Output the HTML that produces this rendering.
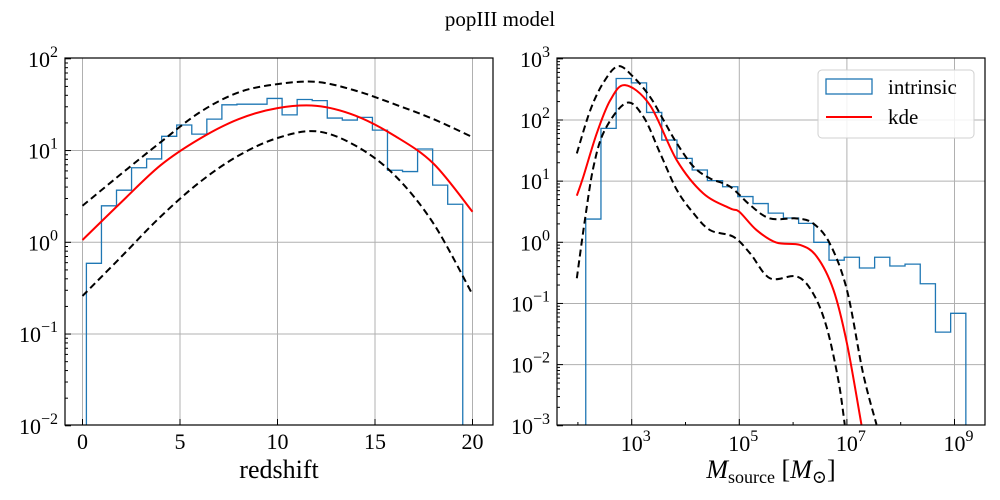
<!DOCTYPE html>
<html><head><meta charset="utf-8"><style>
html,body{margin:0;padding:0;background:#fff;}
svg{display:block;font-family:"Liberation Serif","DejaVu Serif",serif;}
</style></head><body>
<svg id="fig" width="1000" height="500" viewBox="0 0 1000 500">
<defs>
<clipPath id="clipL"><rect x="65" y="58" width="428" height="367"/></clipPath>
<clipPath id="clipR"><rect x="557" y="58" width="428" height="367"/></clipPath>
</defs>
<text x="500" y="26" text-anchor="middle" font-size="21">popIII model</text>
<g id="left"></g>
<g id="right"></g>
</svg>
<script>
// ---------- Left panel data (redshift) ----------
const zEdgeStart = 0.2, zEdgeStep = 0.772;
const zHist = [0.59,2.5,3.7,6.5,8.1,14.3,19,15.1,22,31.5,32,32,37,24.5,36,35,22.6,21.5,23,16.7,6.1,5.9,10.4,4.2,2.6];
const zCurveX = [0,2,4,6,8,10,12,14,16,18,20];
const zKde = [1.06,2.75,6.9,13.4,22,29,30.7,24,14.5,7.2,2.15];
const zUpper = [2.5,5.6,12.3,26,43,53,56,45,32,22,14];
const zLower = [0.26,0.70,1.9,4.5,8.8,13.7,16.2,11.3,5.4,1.6,0.27];
const zXTicks = [0,5,10,15,20];
const zYTicks = [-2,-1,0,1,2];

// ---------- Right panel data (log10 mass) ----------
const mEdgeStart = 2.146, mEdgeStep = 0.2826;
const mHist = [2.4,73,477,405,133,47,23.6,15.2,10.2,8.1,5.6,4.3,3.0,2.5,2.04,1.0,0.51,0.57,0.38,0.57,0.41,0.44,0.21,0.034,0.069];
const mKdeX = [1.98,2.1,2.35,2.6,2.876,3.34,3.836,4.33,4.83,5.0,5.32,5.69,6.13,6.44,6.75,7.0,7.27];
const mKdeLog = [0.762,1.07,1.78,2.32,2.57,2.243,1.345,0.8,0.555,0.5,0.2,-0.005,-0.044,-0.234,-0.778,-1.65,-2.98];
const mUpX = [1.98,2.23,2.48,2.75,3.03,3.34,3.59,3.84,4.15,4.455,4.83,5.2,5.57,6.07,6.37,6.68,7.0,7.3,7.55];
const mUpLog = [1.453,2.16,2.62,2.88,2.705,2.38,2.0,1.617,1.236,1.045,0.909,0.61,0.39,0.39,0.31,-0.016,-0.778,-2.14,-2.98];
const mLoX = [1.98,2.13,2.29,2.5,2.9,3.22,3.53,3.84,4.15,4.455,4.89,5.2,5.57,6.07,6.37,6.62,6.84,6.96];
const mLoLog = [-0.588,0.365,1.236,1.835,2.28,2.05,1.453,0.855,0.474,0.2,0.09,-0.18,-0.588,-0.56,-0.833,-1.377,-2.25,-2.98];
const mXTicks = [3,5,7,9];
const mYTicks = [-3,-2,-1,0,1,2,3];

const NS = "http://www.w3.org/2000/svg";
function mk(tag, attrs, parent){const e=document.createElementNS(NS,tag);for(const k in attrs)e.setAttribute(k,attrs[k]);parent.appendChild(e);return e;}

const L = {x0:65,x1:493,y0:58,y1:425};
const xL = v => 82.5 + 19.5*v;
const yL = v => 242.3 - 91.75*Math.log10(v);
const R = {x0:557,x1:985,y0:58,y1:425};
const xR = lv => 631.7 + 53.8*(lv-3);
const yRlog = lv => 242.3 - 61.15*lv;
const yR = v => yRlog(Math.log10(v));

function smoothPath(pts){
  let d = "M"+pts[0][0]+","+pts[0][1];
  for(let i=0;i<pts.length-1;i++){
    const p0=pts[Math.max(0,i-1)],p1=pts[i],p2=pts[i+1],p3=pts[Math.min(pts.length-1,i+2)];
    const c1=[p1[0]+(p2[0]-p0[0])/6,p1[1]+(p2[1]-p0[1])/6];
    const c2=[p2[0]-(p3[0]-p1[0])/6,p2[1]-(p3[1]-p1[1])/6];
    d+=" C"+c1[0]+","+c1[1]+" "+c2[0]+","+c2[1]+" "+p2[0]+","+p2[1];
  }
  return d;
}
function stepPath(start,step,vals,xf,yf,bottom){
  let d="M"+xf(start)+","+bottom;
  vals.forEach((v,i)=>{const a=xf(start+i*step),b=xf(start+(i+1)*step);d+=" L"+a+","+yf(v)+" L"+b+","+yf(v);});
  d+=" L"+xf(start+vals.length*step)+","+bottom;
  return d;
}

function sup(parent,x,y,anchor,exp,name){
  const t=mk("text",{x:x,y:y,"text-anchor":anchor,"font-size":22,fill:"#000"},parent);
  
  
  const a=mk("tspan",{},t);a.textContent="10";
  const b=mk("tspan",{dy:-10,"font-size":16},t);b.textContent=String(exp).replace("-","\u2212");
  return t;
}

function panel(g,A,xTicks,xf,yTicks,yLogF,minorX){
  xTicks.forEach(t=>{const l=mk("line",{x1:xf(t),x2:xf(t),y1:A.y0,y2:A.y1,stroke:"#b0b0b0","stroke-width":1},g);
    });
  yTicks.forEach(t=>{const y=yLogF(t);if(y>A.y0+1&&y<A.y1-1){const l=mk("line",{x1:A.x0,x2:A.x1,y1:y,y2:y,stroke:"#b0b0b0","stroke-width":1},g);
    }});
  xTicks.forEach(t=>{mk("line",{x1:xf(t),x2:xf(t),y1:A.y1,y2:A.y1-6,stroke:"#000"},g);});
  for(let d=yTicks[0];d<=yTicks[yTicks.length-1];d++){
    mk("line",{x1:A.x0,x2:A.x0+6,y1:yLogF(d),y2:yLogF(d),stroke:"#000"},g);
    if(d<yTicks[yTicks.length-1]) for(let k=2;k<10;k++){const y=yLogF(d+Math.log10(k));mk("line",{x1:A.x0,x2:A.x0+3,y1:y,y2:y,stroke:"#000"},g);}
  }
  if(minorX){for(let d=1;d<=9;d++){const x=xf(d);if(x>A.x0&&x<A.x1&&!xTicks.includes(d))mk("line",{x1:x,x2:x,y1:A.y1,y2:A.y1-3,stroke:"#000"},g);}}
}

// ---------- Left ----------
const gl=document.getElementById("left");
panel(gl,L,zXTicks,xL,zYTicks,lv=>242.3-91.75*lv,false);
const cl=mk("g",{"clip-path":"url(#clipL)"},gl);
let p=mk("path",{d:stepPath(zEdgeStart,zEdgeStep,zHist,xL,yL,L.y1+5),fill:"none",stroke:"#1f77b4","stroke-width":1.3},cl);

p=mk("path",{d:smoothPath(zCurveX.map((x,i)=>[xL(x),yL(zUpper[i])])),fill:"none",stroke:"#000","stroke-width":2,"stroke-dasharray":"7,4"},cl);

p=mk("path",{d:smoothPath(zCurveX.map((x,i)=>[xL(x),yL(zLower[i])])),fill:"none",stroke:"#000","stroke-width":2,"stroke-dasharray":"7,4"},cl);

p=mk("path",{d:smoothPath(zCurveX.map((x,i)=>[xL(x),yL(zKde[i])])),fill:"none",stroke:"#ff0000","stroke-width":2},cl);

mk("rect",{x:L.x0,y:L.y0,width:L.x1-L.x0,height:L.y1-L.y0,fill:"none",stroke:"#000","stroke-width":1.2},gl);
zXTicks.forEach(t=>{const tx=mk("text",{x:xL(t),y:449,"text-anchor":"middle","font-size":22},gl);tx.textContent=t;
  });
zYTicks.forEach(t=>sup(gl,58,242.3-91.75*t+8,"end",t,"y-tick-label"));
let xl=mk("text",{x:279,y:478,"text-anchor":"middle","font-size":26},gl);xl.textContent="redshift";


// ---------- Right ----------
const gr=document.getElementById("right");
panel(gr,R,mXTicks,xR,mYTicks,yRlog,true);
const cr=mk("g",{"clip-path":"url(#clipR)"},gr);
p=mk("path",{d:stepPath(mEdgeStart,mEdgeStep,mHist,xR,yR,R.y1+5),fill:"none",stroke:"#1f77b4","stroke-width":1.3},cr);

p=mk("path",{d:smoothPath(mUpX.map((x,i)=>[xR(x),yRlog(mUpLog[i])])),fill:"none",stroke:"#000","stroke-width":2,"stroke-dasharray":"7,4"},cr);

p=mk("path",{d:smoothPath(mLoX.map((x,i)=>[xR(x),yRlog(mLoLog[i])])),fill:"none",stroke:"#000","stroke-width":2,"stroke-dasharray":"7,4"},cr);

p=mk("path",{d:smoothPath(mKdeX.map((x,i)=>[xR(x),yRlog(mKdeLog[i])])),fill:"none",stroke:"#ff0000","stroke-width":2},cr);

mk("rect",{x:R.x0,y:R.y0,width:R.x1-R.x0,height:R.y1-R.y0,fill:"none",stroke:"#000","stroke-width":1.2},gr);
mXTicks.forEach(t=>sup(gr,xR(t)+4,451,"middle",t,"x-tick-label"));
mYTicks.forEach(t=>sup(gr,550,yRlog(t)+8,"end",t,"y-tick-label"));
xl=mk("text",{x:771,y:478,"text-anchor":"middle","font-size":26},gr);

let s=mk("tspan",{"font-style":"italic"},xl);s.textContent="M";
s=mk("tspan",{dy:5,"font-size":18},xl);s.textContent="source";
s=mk("tspan",{dy:-5},xl);s.textContent=" [";
s=mk("tspan",{"font-style":"italic"},xl);s.textContent="M";
s=mk("tspan",{dy:5,"font-size":18},xl);s.textContent="\u2299";
s=mk("tspan",{dy:-5},xl);s.textContent="]";

// legend
const lg=mk("g",{},gr);

mk("rect",{x:818,y:70,width:156,height:68,rx:4,fill:"#fff","fill-opacity":0.85,stroke:"#d0d0d0"},lg);
const e1=mk("g",{},lg);
mk("rect",{x:826,y:79,width:46,height:15,fill:"none",stroke:"#1f77b4","stroke-width":1.3},e1);
let lt=mk("text",{x:888,y:94,"font-size":21},e1);lt.textContent="intrinsic";
const e2=mk("g",{},lg);
mk("line",{x1:826,x2:872,y1:117,y2:117,stroke:"#ff0000","stroke-width":2},e2);
lt=mk("text",{x:888,y:124,"font-size":21},e2);lt.textContent="kde";
</script>
</body></html>
